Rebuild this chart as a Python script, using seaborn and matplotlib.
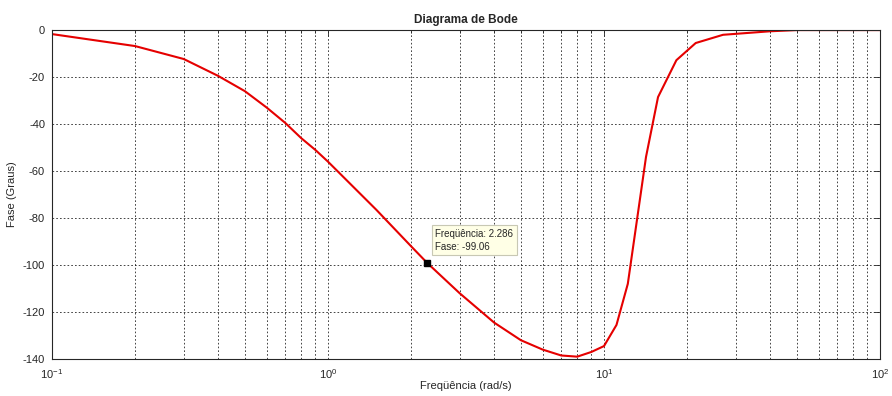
import matplotlib
matplotlib.use("Agg")
import matplotlib.pyplot as plt
from matplotlib.ticker import LogLocator, FixedLocator, NullFormatter
import seaborn as sns
import pandas as pd

# Phase response samples (rad/s, degrees)
freq = [0.1, 0.2, 0.3, 0.4, 0.5, 0.6, 0.7, 0.8, 0.9, 1.0, 1.5, 2.0, 2.286,
        3.0, 4.0, 5.0, 6.0, 7.0, 8.0, 9.0, 10.0, 11.1, 12.2, 14.2, 15.7,
        18.3, 21.5, 27.0, 40.0, 50.0, 100.0]
phase = [-1.7, -6.8, -12.3, -19.5, -26.0, -33.0, -39.5, -46.0, -51.0, -56.0,
         -76.6, -92.0, -99.06, -112.0, -124.5, -132.0, -136.0, -138.5, -139.0,
         -137.0, -134.5, -125.5, -108.0, -54.0, -28.5, -12.8, -5.5, -2.0,
         -0.5, 0.0, 0.0]

tip_freq = 2.286
tip_phase = -99.06

y_ticks = [0, -20, -40, -60, -80, -100, -120, -140]

sns.set_theme(style="white")
plt.rcParams["font.family"] = ["Liberation Sans", "DejaVu Sans"]
plt.rcParams["axes.unicode_minus"] = False

df = pd.DataFrame({"Frequencia": freq, "Fase": phase})

fig = plt.figure(figsize=(8.92, 3.96), dpi=100)
ax = fig.add_axes([0.0583, 0.0934, 0.9282, 0.8306])

sns.lineplot(data=df, x="Frequencia", y="Fase", sort=False, color="#e50000",
             linewidth=1.5, ax=ax, estimator=None)

ax.set_xscale("log")
ax.set_xlim(0.1, 100)
ax.set_ylim(-140, 0)
ax.yaxis.set_major_locator(FixedLocator(y_ticks))
ax.xaxis.set_major_locator(LogLocator(base=10))
ax.xaxis.set_minor_locator(LogLocator(base=10, subs=range(2, 10)))
ax.xaxis.set_minor_formatter(NullFormatter())

grid_kw = dict(color="black", linestyle=(0, (2, 2.5)), linewidth=0.6, alpha=0.85)
ax.grid(True, which="major", axis="both", **grid_kw)
ax.grid(True, which="minor", axis="x", **grid_kw)

for s in ax.spines.values():
    s.set_color("#262626")
    s.set_linewidth(0.8)

ax.tick_params(axis="both", which="both", direction="in", top=True, right=True,
               labelsize=8, colors="#262626", length=4, width=0.6)
ax.tick_params(axis="both", which="minor", length=2)
ax.tick_params(axis="x", which="major", pad=6)
ax.tick_params(axis="y", which="major", pad=5)

ax.set_title("Diagrama de Bode", fontsize=8.5, fontweight="bold", pad=5)
ax.set_xlabel("Freqüência (rad/s)", fontsize=8, labelpad=0)
ax.set_ylabel("Fase (Graus)", fontsize=8, labelpad=4)

# Data cursor
ax.plot([tip_freq], [tip_phase], marker="s", markersize=5, color="black",
        linestyle="none", zorder=5)
ax.annotate(f"Freqüência: {tip_freq:.3f}\nFase: {tip_phase:.2f}",
            xy=(tip_freq, tip_phase), xytext=(6, 8), textcoords="offset points",
            fontsize=7, va="bottom", ha="left", linespacing=1.4,
            bbox=dict(boxstyle="square,pad=0.35", facecolor="#ffffe6",
                      edgecolor="#c8c8b4", linewidth=0.8), zorder=6)

fig.savefig("out.png", dpi=100)
